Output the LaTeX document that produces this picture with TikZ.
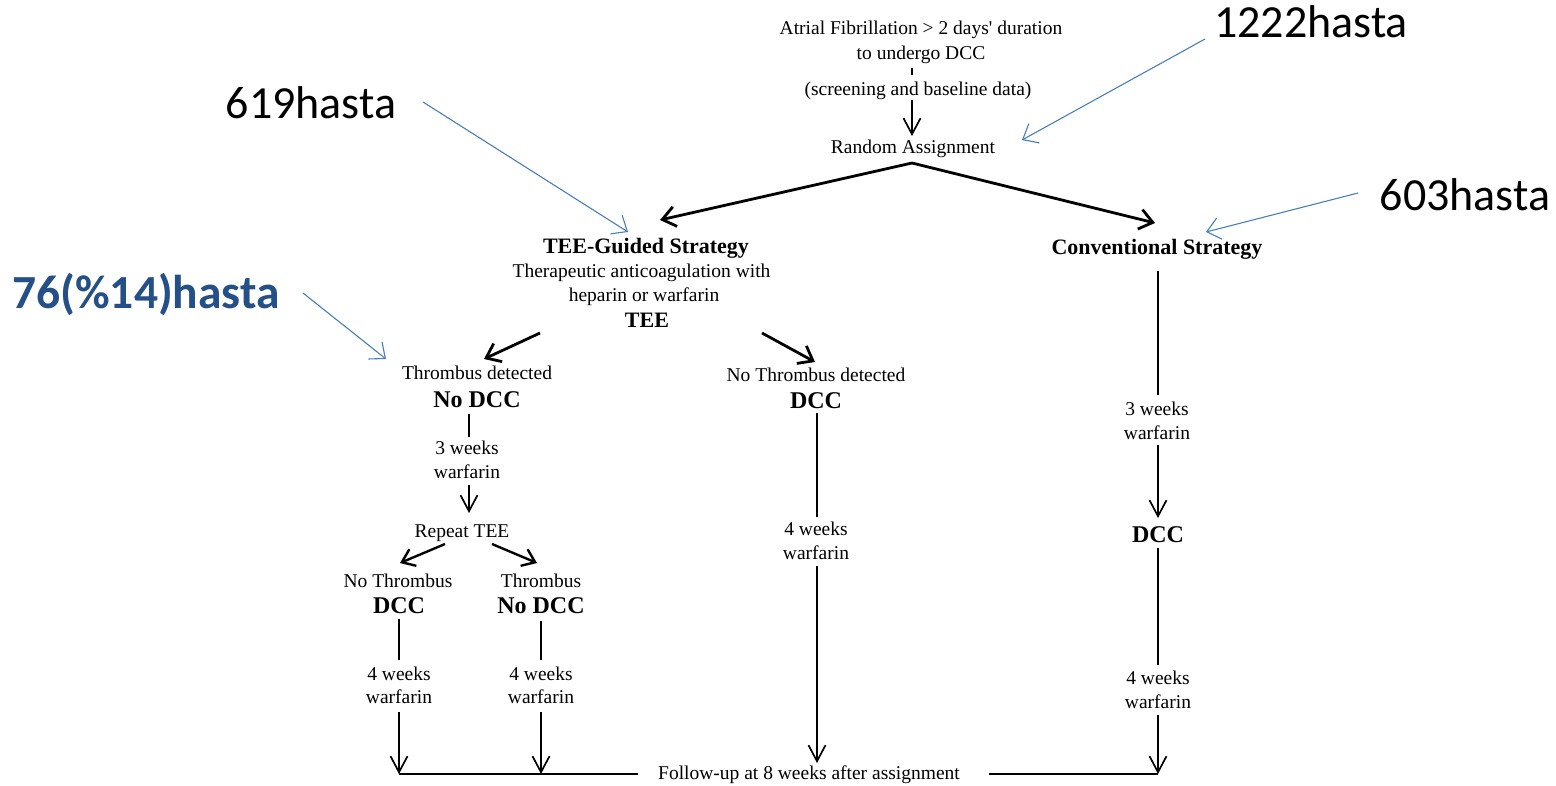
\documentclass[tikz,border=0pt]{standalone}
\usepackage{fontspec}
\setmainfont{Liberation Serif}
\newfontfamily\calib{Carlito}
\usetikzlibrary{arrows.meta}
\definecolor{annblue}{HTML}{4A7EBB}
\definecolor{darkblue}{RGB}{36,79,135}
\tikzset{
  txt/.style={font=\fontsize{19.5}{24}\selectfont, inner sep=0pt, anchor=base},
  hd/.style={font=\bfseries\fontsize{22}{26}\selectfont, inner sep=0pt, anchor=base},
  bg/.style={font=\bfseries\fontsize{24}{28}\selectfont, inner sep=0pt, anchor=base},
  ann/.style={font=\calib\fontsize{46}{50}\selectfont, inner sep=0pt, anchor=base},
  ln/.style={line width=1.6pt},
  arr/.style={line width=1.7pt, -{Straight Barb[length=16pt,width=17pt]}},
  darr/.style={line width=2.8pt, -{Straight Barb[length=13pt,width=20pt]}},
  sarr/.style={line width=2.4pt, -{Straight Barb[length=12pt,width=18pt]}},
  barr/.style={annblue, line width=1.1pt, -{Straight Barb[length=13pt,width=22pt]}},
}
\begin{document}
\begin{tikzpicture}[x=1pt,y=-1pt]
\useasboundingbox (0,0) rectangle (1556,785);
% ---------- texts ----------
\node[txt] (af1) at (921,34.5) {Atrial Fibrillation > 2 days\textquotesingle{} duration};
\node[txt] (af2) at (921,59.5) {to undergo DCC};
\node[txt] (scr) at (918,95) {(screening and baseline data)};
\node[txt] (ra) at (913,153.5) {Random Assignment};
\node[hd] (tee) at (646,253) {TEE-Guided Strategy};
\node[txt] (ther1) at (641.5,277.5) {Therapeutic anticoagulation with};
\node[txt] (ther2) at (644,301.5) {heparin or warfarin};
\node[hd] (teeb) at (647,327) {TEE};
\node[hd] (conv) at (1157,254) {Conventional Strategy};
% left branch
\node[txt] (thr) at (477,379.5) {Thrombus detected};
\node[bg] (nodcc1) at (477,407) {No DCC};
\node[txt] (w3a) at (467,454.5) {3 weeks};
\node[txt] (w3b) at (467,478.5) {warfarin};
\node[txt] (rep) at (462,537.5) {Repeat TEE};
\node[txt] (nothr) at (398,587.5) {No Thrombus};
\node[bg] (dcc2) at (399,613) {DCC};
\node[txt] (thr2) at (541,587.5) {Thrombus};
\node[bg] (nodcc2) at (541,613) {No DCC};
\node[txt] (w4a) at (399,680.5) {4 weeks};
\node[txt] (w4b) at (399,703.5) {warfarin};
\node[txt] (w4c) at (541,680.5) {4 weeks};
\node[txt] (w4d) at (541,703.5) {warfarin};
% middle branch
\node[txt] (nothrd) at (816,381.5) {No Thrombus detected};
\node[bg] (dcc1) at (816,408) {DCC};
\node[txt] (w4e) at (816,535.5) {4 weeks};
\node[txt] (w4f) at (816,559) {warfarin};
% right branch
\node[txt] (w3c) at (1157,415.5) {3 weeks};
\node[txt] (w3d) at (1157,439.5) {warfarin};
\node[bg] (dcc3) at (1158,542) {DCC};
\node[txt] (w4g) at (1158,684.5) {4 weeks};
\node[txt] (w4h) at (1158,708.5) {warfarin};
% follow-up
\node[txt] (fu) at (809,779.5) {Follow-up at 8 weeks after assignment};
% annotations
\node[ann] (n1222) at (1311,37) {1222hasta};
\node[ann] (n619) at (311,118) {619hasta};
\node[ann] (n603) at (1465,210) {603hasta};
\node[ann, font=\calib\bfseries\fontsize{47.5}{50}\selectfont, text=darkblue] (n76) at (146,308) {76(\%14)hasta};
% ---------- connector end points ----------
\coordinate (tickA) at (912,68);  \coordinate (tickB) at (912,75);
\coordinate (scrB) at (912,100);  \coordinate (raT) at (912,136);
\coordinate (apex) at (912,163);
\coordinate (teeT) at (660,220);  \coordinate (convT) at (1155,223);
\coordinate (teeL) at (540,333);  \coordinate (thrT) at (484,359);
\coordinate (teeR) at (762,333);  \coordinate (nothrT) at (815,362);
\coordinate (nd1B) at (469,414);  \coordinate (w3aT) at (469,437);
\coordinate (w3bB) at (469,485);  \coordinate (repT) at (469,513);
\coordinate (repL) at (445,544);  \coordinate (nothrTT) at (400,563);
\coordinate (repR) at (492,544);  \coordinate (thr2T) at (537,563);
\coordinate (dcc2B) at (399,619); \coordinate (w4aT) at (399,660);
\coordinate (nd2B) at (541,621);  \coordinate (w4cT) at (541,660);
\coordinate (w4bB) at (399,712);  \coordinate (fuL1) at (399,774);
\coordinate (w4dB) at (541,712);  \coordinate (fuL2) at (541,774);
\coordinate (fuLe) at (638,774);
\coordinate (dcc1B) at (817,413); \coordinate (w4eT) at (817,517);
\coordinate (w4fB) at (817,566); \coordinate (fuM) at (817,763);
\coordinate (convB) at (1158,271); \coordinate (w3cT) at (1158,395);
\coordinate (w3dB) at (1158,445); \coordinate (dcc3T) at (1158,518);
\coordinate (dcc3B) at (1158,548); \coordinate (w4gT) at (1158,665);
\coordinate (w4hB) at (1158,715); \coordinate (fuR) at (1158,774);
\coordinate (fuRs) at (989,774);
\coordinate (a1222) at (1205,39);  \coordinate (a1222t) at (1022,140);
\coordinate (a619) at (423,102);   \coordinate (a619t) at (628,232);
\coordinate (a603) at (1358,193);  \coordinate (a603t) at (1206,232);
\coordinate (a76) at (303,293);    \coordinate (a76t) at (386,359);
% ---------- connectors ----------
\draw[line width=1.4pt] (tickA) -- (tickB);
\draw[arr] (scrB) -- (raT);
\draw[darr] (apex) -- (teeT);
\draw[darr] (apex) -- (convT);
\draw[darr] (teeL) -- (thrT);
\draw[darr] (teeR) -- (nothrT);
\draw[ln] (nd1B) -- (w3aT);
\draw[arr] (w3bB) -- (repT);
\draw[sarr] (repL) -- (nothrTT);
\draw[sarr] (repR) -- (thr2T);
\draw[ln] (dcc2B) -- (w4aT);
\draw[ln] (nd2B) -- (w4cT);
\draw[arr] (w4bB) -- (fuL1);
\draw[arr] (w4dB) -- (fuL2);
\draw[ln] (fuL1) -- (fuLe);
\draw[ln] (dcc1B) -- (w4eT);
\draw[arr] (w4fB) -- (fuM);
\draw[ln] (convB) -- (w3cT);
\draw[arr] (w3dB) -- (dcc3T);
\draw[ln] (dcc3B) -- (w4gT);
\draw[arr] (w4hB) -- (fuR);
\draw[ln] (fuRs) -- (fuR);
\draw[barr] (a1222) -- (a1222t);
\draw[barr] (a619) -- (a619t);
\draw[barr] (a603) -- (a603t);
\draw[barr] (a76) -- (a76t);
\end{tikzpicture}
\end{document}
